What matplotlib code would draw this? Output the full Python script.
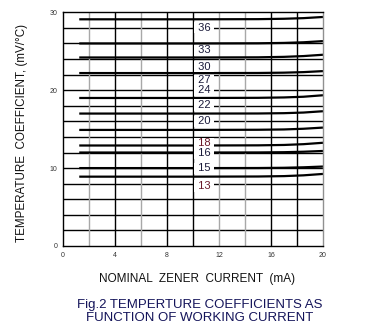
import matplotlib
matplotlib.use("Agg")
import matplotlib.pyplot as plt

# ---- data ----
current_ma = [1.25, 10, 15, 17, 18.5, 20]
curve_labels = ["36", "33", "30", "27", "24", "22", "20", "18", "16", "15", "13"]
tc_36 = [29.1, 29.1, 29.12, 29.17, 29.25, 29.4]
tc_33 = [26.0, 26.0, 26.02, 26.07, 26.15, 26.3]
tc_30 = [24.2, 24.2, 24.22, 24.28, 24.38, 24.55]
tc_27 = [22.2, 22.2, 22.21, 22.25, 22.32, 22.45]
tc_24 = [19.0, 19.0, 19.02, 19.07, 19.16, 19.35]
tc_22 = [17.0, 17.0, 17.01, 17.05, 17.13, 17.3]
tc_20 = [14.9, 14.9, 14.92, 14.96, 15.05, 15.2]
tc_18 = [12.9, 12.9, 12.92, 12.97, 13.07, 13.25]
tc_16 = [12.0, 12.0, 12.01, 12.04, 12.1, 12.2]
tc_15 = [10.0, 10.0, 10.01, 10.04, 10.1, 10.2]
tc_13 = [8.9, 8.9, 8.92, 8.97, 9.07, 9.25]
curves = [tc_36, tc_33, tc_30, tc_27, tc_24, tc_22, tc_20, tc_18, tc_16, tc_15, tc_13]
label_y = [28.0, 25.1, 23.0, 21.3, 20.0, 18.1, 16.0, 13.2, 11.9, 10.0, 7.7]
label_colors = ["#1a1a3a", "#1a1a3a", "#1a1a3a", "#1a1a3a", "#1a1a3a", "#1a1a3a",
                "#1a1a3a", "#6b1a2a", "#1a1a3a", "#1a1a3a", "#6b1a2a"]
x_ticks = [0, 4, 8, 12, 16, 20]
y_ticks = [0, 10, 20, 30]

plt.rcParams['font.family'] = ['Liberation Sans', 'DejaVu Sans']

fig = plt.figure(figsize=(3.71, 3.36), dpi=100)
ax = fig.add_axes([0.1698, 0.2679, 0.7008, 0.6955])
ax.set_xlim(0, 20)
ax.set_ylim(0, 30)

# grid
for gy in range(2, 30, 2):
    ax.axhline(gy, color="black", lw=1.0, zorder=1)
grey_x = [2, 6, 12, 14]
for gx in range(2, 20, 2):
    ax.axvline(gx, color="#a8a8a8" if gx in grey_x else "black", lw=1.0, zorder=1)

for c in curves:
    ax.plot(current_ma, c, color="black", lw=1.6, zorder=2, solid_capstyle="butt")

for lab, ly, col in zip(curve_labels, label_y, label_colors):
    ax.text(10.85, ly, " " + lab + " ", ha="center", va="center", fontsize=8, color=col,
            zorder=4, bbox=dict(boxstyle="square,pad=0.05", fc="white", ec="none"))

for s in ["left", "top", "bottom"]:
    ax.spines[s].set_color("black")
    ax.spines[s].set_linewidth(1.0)
ax.spines["right"].set_color("#909090")
ax.spines["right"].set_linewidth(1.0)

ax.set_xticks(x_ticks)
ax.set_yticks(y_ticks)
ax.tick_params(length=0, labelsize=5, colors="#333333", pad=4)

fig.text(0.059, 0.603, "TEMPERATURE  COEFFICIENT, (mV/°C)", rotation=90,
         ha="center", va="center", fontsize=8.4, color="#111111")
fig.text(0.531, 0.17, "NOMINAL  ZENER  CURRENT  (mA)", ha="center", va="center",
         fontsize=8.5, color="#111111")
fig.text(0.539, 0.072, "Fig.2 TEMPERTURE COEFFICIENTS AS\nFUNCTION OF WORKING CURRENT",
         ha="center", va="center", fontsize=9.5, color="#14145a", linespacing=1.15)

fig.savefig("out.png", dpi=100)
